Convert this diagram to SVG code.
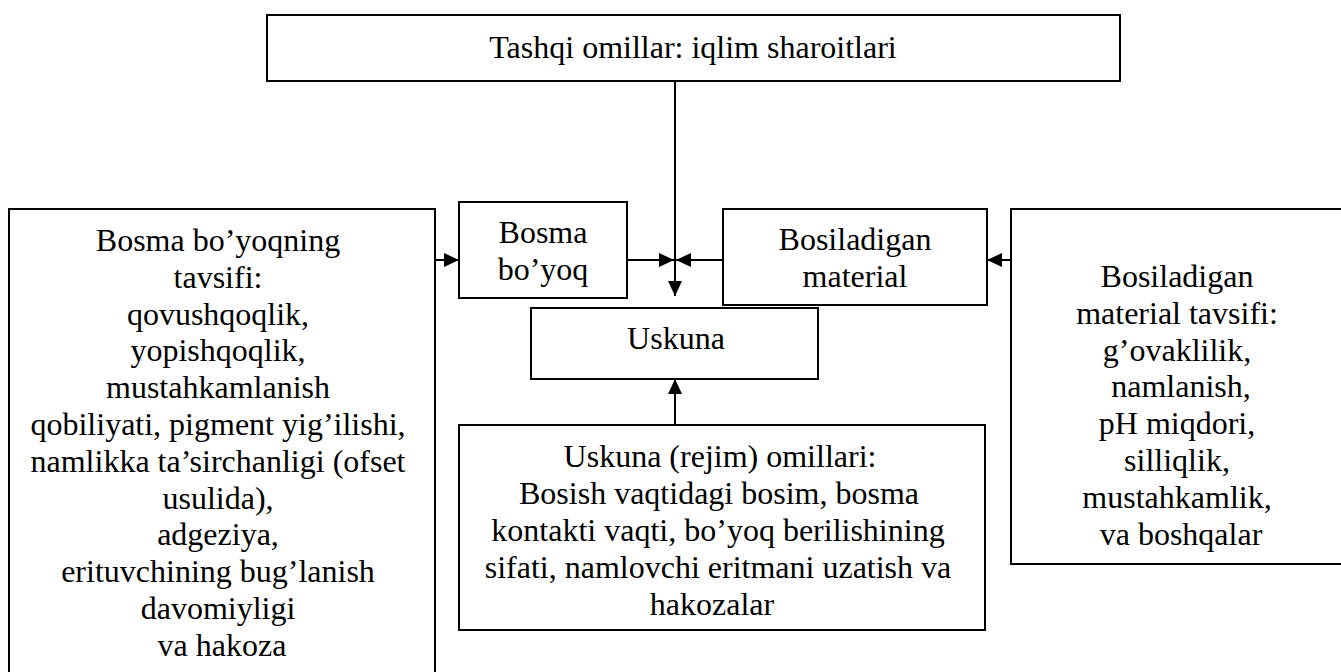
<svg xmlns="http://www.w3.org/2000/svg" width="1341" height="672" viewBox="0 0 1341 672">
<style>
.box{fill:#fff;stroke:#000;stroke-width:2}
.t{font-family:"Liberation Serif","Times New Roman",serif;font-size:32px;fill:#000;text-anchor:middle}
.c{stroke:#000;stroke-width:2;fill:none}
</style>
<defs>
<marker id="ah" markerUnits="userSpaceOnUse" markerWidth="16" markerHeight="14" refX="15" refY="7" orient="auto">
<path d="M0,0 L15,7 L0,14 z" fill="#000"/>
</marker>
</defs>
<rect width="1341" height="672" fill="#fff"/>
<g id="connectors">
<line class="c" x1="675" y1="81" x2="675" y2="296" marker-end="url(#ah)"/>
<line class="c" x1="627" y1="260" x2="674" y2="260" marker-end="url(#ah)"/>
<line class="c" x1="723" y1="260" x2="676" y2="260" marker-end="url(#ah)"/>
<line class="c" x1="435" y1="260" x2="459" y2="260" marker-end="url(#ah)"/>
<line class="c" x1="1011" y1="260" x2="987" y2="260" marker-end="url(#ah)"/>
<line class="c" x1="675" y1="425" x2="675" y2="379" marker-end="url(#ah)"/>
</g>
<g id="top">
<rect class="box" x="267" y="15" width="853" height="66"/>
<text class="t" x="693" y="58">Tashqi omillar: iqlim sharoitlari</text>
</g>
<g id="ink">
<rect class="box" x="459" y="202" width="168" height="96"/>
<text class="t" x="543" y="243">Bosma</text>
<text class="t" x="543" y="280">bo’yoq</text>
</g>
<g id="material">
<rect class="box" x="723" y="209" width="264" height="96"/>
<text class="t" x="855" y="250">Bosiladigan</text>
<text class="t" x="855" y="287">material</text>
</g>
<g id="equipment">
<rect class="box" x="531" y="308" width="287" height="71"/>
<text class="t" x="676" y="349">Uskuna</text>
</g>
<g id="ink-props">
<rect class="box" x="9" y="209" width="426" height="480"/>
<text class="t">
<tspan x="222" y="251">Bosma bo’yoqning</tspan>
<tspan x="222" y="288">tavsifi:</tspan>
<tspan x="222" y="324.6">qovushqoqlik,</tspan>
<tspan x="222" y="361.4">yopishqoqlik,</tspan>
<tspan x="222" y="398.2">mustahkamlanish</tspan>
<tspan x="222" y="435">qobiliyati, pigment yig’ilishi,</tspan>
<tspan x="222" y="471.8">namlikka ta’sirchanligi (ofset</tspan>
<tspan x="222" y="508.6">usulida),</tspan>
<tspan x="222" y="545.4">adgeziya,</tspan>
<tspan x="222" y="582.2">erituvchining bug’lanish</tspan>
<tspan x="222" y="619">davomiyligi</tspan>
<tspan x="222" y="655.8">va hakoza</tspan>
</text>
</g>
<g id="material-props">
<rect class="box" x="1011" y="209" width="340" height="355"/>
<text class="t">
<tspan x="1181" y="287">Bosiladigan</tspan>
<tspan x="1181" y="324">material tavsifi:</tspan>
<tspan x="1181" y="361">g’ovaklilik,</tspan>
<tspan x="1185" y="397">namlanish,</tspan>
<tspan x="1181" y="434">pH miqdori,</tspan>
<tspan x="1181" y="471">silliqlik,</tspan>
<tspan x="1181" y="508">mustahkamlik,</tspan>
<tspan x="1181" y="545">va boshqalar</tspan>
</text>
</g>
<g id="mode-props">
<rect class="box" x="459" y="425" width="526" height="205"/>
<text class="t">
<tspan x="724" y="467">Uskuna (rejim) omillari:</tspan>
<tspan x="723" y="504">Bosish vaqtidagi bosim, bosma</tspan>
<tspan x="722" y="541">kontakti vaqti, bo’yoq berilishining</tspan>
<tspan x="722" y="578">sifati, namlovchi eritmani uzatish va</tspan>
<tspan x="712" y="615">hakozalar</tspan>
</text>
</g>
</svg>
